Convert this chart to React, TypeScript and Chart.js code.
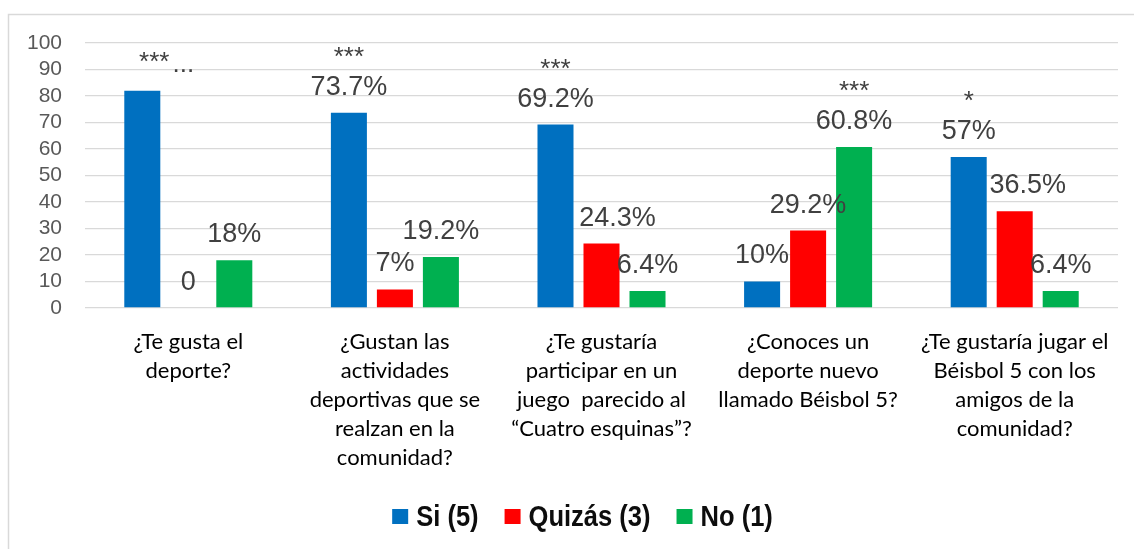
import React, { useEffect, useRef } from "react";
import { Chart, registerables } from "chart.js";

Chart.register(...registerables);

const categories: string[][] = [
  ["¿Te gusta el", "deporte?"],
  ["¿Gustan las", "actividades", "deportivas que se", "realzan en la", "comunidad?"],
  ["¿Te gustaría", "participar en un", "juego  parecido al", "“Cuatro esquinas”?"],
  ["¿Conoces un", "deporte nuevo", "llamado Béisbol 5?"],
  ["¿Te gustaría jugar el", "Béisbol 5 con los", "amigos de la", "comunidad?"],
];
const seriesNames = ["Si (5)", "Quizás (3)", "No (1)"];
const siValues = [82, 73.7, 69.2, 10, 57];
const quizasValues = [0, 7, 24.3, 29.2, 36.5];
const noValues = [18, 19.2, 6.4, 60.8, 6.4];
const siLabels = ["", "73.7%", "69.2%", "10%", "57%"];
const quizasLabels = ["0", "7%", "24.3%", "29.2%", "36.5%"];
const noLabels = ["18%", "19.2%", "6.4%", "60.8%", "6.4%"];
const significance = ["***", "***", "***", "***", "*"];
const significanceSeries = [0, 0, 0, 2, 0];
const yMin = 0;
const yMax = 100;
const yStep = 10;

const COLORS = ["#0070C0", "#FF0000", "#00B050"];
const LABEL_FONT = '"Liberation Sans", Arial, sans-serif';
const quizasShift = [0, 0, 16, 0, 13];

const labelPlugin = {
  id: "valueLabels",
  afterDatasetsDraw(chart: any) {
    const ctx = chart.ctx;
    const all = [siLabels, quizasLabels, noLabels];
    ctx.save();
    ctx.fillStyle = "#404040";
    ctx.textAlign = "center";
    ctx.textBaseline = "middle";
    ctx.font = `27px ${LABEL_FONT}`;
    all.forEach((labels, di) => {
      const meta = chart.getDatasetMeta(di);
      meta.data.forEach((bar: any, i: number) => {
        const t = labels[i];
        if (!t) return;
        const dx = di === 1 ? quizasShift[i] : 0;
        ctx.fillText(t, bar.x + dx, bar.y - 25.5);
      });
    });
    ctx.font = `26px ${LABEL_FONT}`;
    ctx.textBaseline = "alphabetic";
    significance.forEach((s, i) => {
      const di = significanceSeries[i];
      const bar = chart.getDatasetMeta(di).data[i];
      const hasLabel = !!all[di][i];
      const cy = hasLabel ? bar.y - 25.5 - 37 : bar.y - 36;
      const cx = bar.x + (hasLabel ? 0 : 12);
      ctx.fillText(s, cx, cy + 0.575 * 26);
      if (!hasLabel) {
        ctx.fillText("...", cx + 29, cy + 17);
      }
    });
    ctx.restore();
  },
};

const framePlugin = {
  id: "frame",
  beforeDraw(chart: any) {
    const ctx = chart.ctx;
    ctx.save();
    ctx.fillStyle = "#ffffff";
    ctx.fillRect(0, 0, chart.width, chart.height);
    ctx.strokeStyle = "#d9d9d9";
    ctx.lineWidth = 1.5;
    ctx.beginPath();
    ctx.moveTo(8.5, chart.height);
    ctx.lineTo(8.5, 14.5);
    ctx.lineTo(chart.width, 14.5);
    ctx.stroke();
    ctx.restore();
  },
};

const legendPlugin = {
  id: "customLegend",
  afterDraw(chart: any) {
    const ctx = chart.ctx;
    ctx.save();
    const sx = 0.88;
    ctx.font = `bold 29px "Liberation Sans", Arial, sans-serif`;
    const boxW = 16;
    const boxH = 15;
    const gap = 8;
    const spacing = 26;
    const items = chart.data.datasets.map((d: any) => ({
      text: d.label,
      color: d.backgroundColor,
      w: ctx.measureText(d.label).width * sx,
    }));
    const total =
      items.reduce((a: number, it: any) => a + boxW + gap + it.w, 0) +
      spacing * (items.length - 1);
    let x = 582.5 - total / 2;
    const cy = 516.5;
    ctx.textBaseline = "middle";
    ctx.textAlign = "left";
    items.forEach((it: any) => {
      ctx.fillStyle = it.color;
      ctx.fillRect(x, cy - boxH / 2, boxW, boxH);
      x += boxW + gap;
      ctx.fillStyle = "#0d0d0d";
      ctx.save();
      ctx.translate(x, cy + 1);
      ctx.scale(sx, 1);
      ctx.fillText(it.text, 0, 0);
      ctx.restore();
      x += it.w + spacing;
    });
    ctx.restore();
  },
};

export default function App() {
  const ref = useRef<HTMLCanvasElement | null>(null);
  useEffect(() => {
    if (!ref.current) return;
    const chart = new Chart(ref.current, {
      type: "bar",
      data: {
        labels: categories,
        datasets: [
          { label: seriesNames[0], data: siValues, backgroundColor: COLORS[0] },
          { label: seriesNames[1], data: quizasValues, backgroundColor: COLORS[1] },
          { label: seriesNames[2], data: noValues, backgroundColor: COLORS[2] },
        ],
      },
      options: {
        responsive: false,
        animation: false,
        devicePixelRatio: 1,
        datasets: {
          bar: { categoryPercentage: 0.668, barPercentage: 0.783 },
        },
        layout: { padding: { left: 0, right: 16, top: 43, bottom: 0 } },
        plugins: {
          legend: { display: false },
          tooltip: { enabled: false },
        },
        scales: {
          x: {
            grid: { display: false },
            border: { display: false },
            ticks: {
              autoSkip: false,
              maxRotation: 0,
              minRotation: 0,
              padding: 11,
              color: "#000000",
              font: { family: "Lato, 'Liberation Sans', sans-serif", size: 22, lineHeight: 29 / 22 },
            },
            afterFit(scale: any) {
              scale.height = 241;
            },
          },
          y: {
            min: yMin,
            max: yMax,
            ticks: {
              stepSize: yStep,
              autoSkip: false,
              padding: 23,
              color: "#595959",
              font: { family: LABEL_FONT, size: 21 },
            },
            grid: { color: "#d9d9d9", lineWidth: 1.3, drawTicks: false },
            border: { display: false },
            afterFit(scale: any) {
              scale.width = 85;
            },
          },
        },
      },
      plugins: [framePlugin, labelPlugin, legendPlugin],
    } as any);
    return () => chart.destroy();
  }, []);
  return (
    <canvas
      ref={ref}
      width={1134}
      height={549}
      style={{ position: "fixed", left: 0, top: 0, width: 1134, height: 549 }}
    />
  );
}
